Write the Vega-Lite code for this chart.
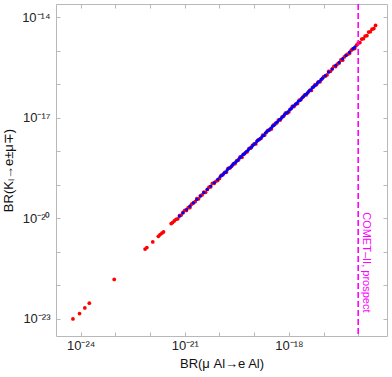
{
  "$schema": "https://vega.github.io/schema/vega-lite/v6.json",
  "width": 331,
  "height": 332,
  "autosize": "none",
  "padding": {"left": 56, "top": 4, "right": 5, "bottom": 41},
  "background": "white",
  "config": {
    "view": {"stroke": "#b8b8b8", "strokeWidth": 1},
    "axis": {
      "domain": false, "grid": false,
      "tickColor": "#b8b8b8", "tickSize": -4, "tickWidth": 1,
      "labelFont": "Liberation Sans", "labelFontSize": 13, "labelColor": "#222",
      "titleFont": "Liberation Sans", "titleFontSize": 13, "titleFontWeight": "normal", "titleColor": "#111"
    }
  },
  "datasets": {
    "pts": [
      {"x": 6.0e-25, "y": 9.8e-24, "s": "r"},
      {"x": 9.3e-25, "y": 1.41e-23, "s": "r"},
      {"x": 1.32e-24, "y": 2.09e-23, "s": "r"},
      {"x": 1.78e-24, "y": 2.88e-23, "s": "r"},
      {"x": 9.3e-24, "y": 1.48e-22, "s": "r"},
      {"x": 7.2e-23, "y": 1.20e-21, "s": "r"},
      {"x": 8.1e-23, "y": 1.32e-21, "s": "r"},
      {"x": 1.20e-22, "y": 1.95e-21, "s": "r"},
      {"x": 1.74e-22, "y": 2.88e-21, "s": "r"},
      {"x": 1.95e-22, "y": 3.24e-21, "s": "r"},
      {"x": 2.19e-22, "y": 3.55e-21, "s": "r"},
      {"x": 2.45e-22, "y": 3.89e-21, "s": "r"},
      {"x": 4.07e-22, "y": 6.9e-21, "s": "r"},
      {"x": 4.47e-22, "y": 7.4e-21, "s": "r"},
      {"x": 5.0e-22, "y": 8.3e-21, "s": "r"},
      {"x": 5.62e-22, "y": 9.26e-21, "s": "r"},
      {"x": 6.31e-22, "y": 9.60e-21, "s": "r"},
      {"x": 7.08e-22, "y": 1.20e-20, "s": "r"},
      {"x": 7.94e-22, "y": 1.24e-20, "s": "r"},
      {"x": 8.91e-22, "y": 1.49e-20, "s": "r"},
      {"x": 1.00e-21, "y": 1.71e-20, "s": "r"},
      {"x": 1.12e-21, "y": 1.70e-20, "s": "r"},
      {"x": 1.26e-21, "y": 2.06e-20, "s": "r"},
      {"x": 1.41e-21, "y": 2.08e-20, "s": "r"},
      {"x": 1.58e-21, "y": 2.63e-20, "s": "r"},
      {"x": 1.78e-21, "y": 2.85e-20, "s": "r"},
      {"x": 2.00e-21, "y": 3.10e-20, "s": "r"},
      {"x": 2.24e-21, "y": 3.87e-20, "s": "r"},
      {"x": 2.51e-21, "y": 3.78e-20, "s": "r"},
      {"x": 2.82e-21, "y": 4.65e-20, "s": "r"},
      {"x": 3.16e-21, "y": 4.96e-20, "s": "r"},
      {"x": 3.55e-21, "y": 6.02e-20, "s": "r"},
      {"x": 3.98e-21, "y": 5.92e-20, "s": "r"},
      {"x": 4.47e-21, "y": 7.22e-20, "s": "r"},
      {"x": 5.01e-21, "y": 8.42e-20, "s": "r"},
      {"x": 5.62e-21, "y": 8.63e-20, "s": "r"},
      {"x": 6.31e-21, "y": 1.10e-19, "s": "r"},
      {"x": 7.08e-21, "y": 1.10e-19, "s": "r"},
      {"x": 7.94e-21, "y": 1.27e-19, "s": "r"},
      {"x": 8.91e-21, "y": 1.34e-19, "s": "r"},
      {"x": 1.00e-20, "y": 1.54e-19, "s": "r"},
      {"x": 1.12e-20, "y": 1.90e-19, "s": "r"},
      {"x": 1.26e-20, "y": 2.00e-19, "s": "r"},
      {"x": 1.41e-20, "y": 2.33e-19, "s": "r"},
      {"x": 1.58e-20, "y": 2.35e-19, "s": "r"},
      {"x": 1.78e-20, "y": 3.08e-19, "s": "r"},
      {"x": 2.00e-20, "y": 3.14e-19, "s": "r"},
      {"x": 2.24e-20, "y": 3.58e-19, "s": "r"},
      {"x": 2.51e-20, "y": 4.22e-19, "s": "r"},
      {"x": 2.82e-20, "y": 4.24e-19, "s": "r"},
      {"x": 3.16e-20, "y": 5.26e-19, "s": "r"},
      {"x": 3.55e-20, "y": 5.51e-19, "s": "r"},
      {"x": 3.98e-20, "y": 6.82e-19, "s": "r"},
      {"x": 4.47e-20, "y": 6.58e-19, "s": "r"},
      {"x": 5.01e-20, "y": 8.18e-19, "s": "r"},
      {"x": 5.62e-20, "y": 9.08e-19, "s": "r"},
      {"x": 6.31e-20, "y": 9.60e-19, "s": "r"},
      {"x": 7.08e-20, "y": 1.20e-18, "s": "r"},
      {"x": 7.94e-20, "y": 1.24e-18, "s": "r"},
      {"x": 8.91e-20, "y": 1.49e-18, "s": "r"},
      {"x": 1.00e-19, "y": 1.65e-18, "s": "r"},
      {"x": 1.12e-19, "y": 1.66e-18, "s": "r"},
      {"x": 1.26e-19, "y": 2.12e-18, "s": "r"},
      {"x": 1.41e-19, "y": 2.26e-18, "s": "r"},
      {"x": 1.58e-19, "y": 2.43e-18, "s": "r"},
      {"x": 1.78e-19, "y": 3.05e-18, "s": "r"},
      {"x": 2.00e-19, "y": 3.01e-18, "s": "r"},
      {"x": 2.24e-19, "y": 3.65e-18, "s": "r"},
      {"x": 2.51e-19, "y": 4.18e-18, "s": "r"},
      {"x": 2.82e-19, "y": 4.37e-18, "s": "r"},
      {"x": 3.16e-19, "y": 4.66e-18, "s": "r"},
      {"x": 3.55e-19, "y": 6.02e-18, "s": "r"},
      {"x": 3.98e-19, "y": 6.43e-18, "s": "r"},
      {"x": 4.47e-19, "y": 7.01e-18, "s": "r"},
      {"x": 5.01e-19, "y": 8.58e-18, "s": "r"},
      {"x": 5.62e-19, "y": 8.54e-18, "s": "r"},
      {"x": 6.31e-19, "y": 1.04e-17, "s": "r"},
      {"x": 7.08e-19, "y": 1.12e-17, "s": "r"},
      {"x": 7.94e-19, "y": 1.37e-17, "s": "r"},
      {"x": 8.91e-19, "y": 1.37e-17, "s": "r"},
      {"x": 1.00e-18, "y": 1.50e-17, "s": "r"},
      {"x": 1.12e-18, "y": 1.83e-17, "s": "r"},
      {"x": 1.26e-18, "y": 2.18e-17, "s": "r"},
      {"x": 1.41e-18, "y": 2.17e-17, "s": "r"},
      {"x": 1.58e-18, "y": 2.56e-17, "s": "r"},
      {"x": 1.78e-18, "y": 2.65e-17, "s": "r"},
      {"x": 2.00e-18, "y": 3.36e-17, "s": "r"},
      {"x": 2.24e-18, "y": 3.51e-17, "s": "r"},
      {"x": 2.51e-18, "y": 4.14e-17, "s": "r"},
      {"x": 2.82e-18, "y": 4.78e-17, "s": "r"},
      {"x": 3.16e-18, "y": 4.81e-17, "s": "r"},
      {"x": 3.55e-18, "y": 5.68e-17, "s": "r"},
      {"x": 3.98e-18, "y": 6.62e-17, "s": "r"},
      {"x": 4.47e-18, "y": 6.58e-17, "s": "r"},
      {"x": 5.01e-18, "y": 8.18e-17, "s": "r"},
      {"x": 5.62e-18, "y": 9.62e-17, "s": "r"},
      {"x": 6.31e-18, "y": 9.80e-17, "s": "r"},
      {"x": 7.08e-18, "y": 1.19e-16, "s": "r"},
      {"x": 7.94e-18, "y": 1.19e-16, "s": "r"},
      {"x": 8.91e-18, "y": 1.44e-16, "s": "r"},
      {"x": 1.00e-17, "y": 1.68e-16, "s": "r"},
      {"x": 1.12e-17, "y": 1.75e-16, "s": "r"},
      {"x": 1.26e-17, "y": 1.90e-16, "s": "r"},
      {"x": 1.41e-17, "y": 2.42e-16, "s": "r"},
      {"x": 1.58e-17, "y": 2.45e-16, "s": "r"},
      {"x": 1.78e-17, "y": 2.91e-16, "s": "r"},
      {"x": 2.00e-17, "y": 3.46e-16, "s": "r"},
      {"x": 2.24e-17, "y": 3.40e-16, "s": "r"},
      {"x": 2.51e-17, "y": 4.02e-16, "s": "r"},
      {"x": 2.82e-17, "y": 4.33e-16, "s": "r"},
      {"x": 3.16e-17, "y": 5.36e-16, "s": "r"},
      {"x": 3.55e-17, "y": 5.28e-16, "s": "r"},
      {"x": 3.98e-17, "y": 6.56e-16, "s": "r"},
      {"x": 4.47e-17, "y": 7.51e-16, "s": "r"},
      {"x": 5.01e-17, "y": 7.94e-16, "s": "r"},
      {"x": 5.62e-17, "y": 8.45e-16, "s": "r"},
      {"x": 6.31e-17, "y": 1.05e-15, "s": "r"},
      {"x": 7.08e-17, "y": 1.15e-15, "s": "r"},
      {"x": 7.94e-17, "y": 1.17e-15, "s": "r"},
      {"x": 8.91e-17, "y": 1.47e-15, "s": "r"},
      {"x": 1.00e-16, "y": 1.70e-15, "s": "r"},
      {"x": 1.12e-16, "y": 1.77e-15, "s": "r"},
      {"x": 1.26e-16, "y": 2.25e-15, "s": "r"},
      {"x": 1.41e-16, "y": 2.30e-15, "s": "r"},
      {"x": 1.58e-16, "y": 2.76e-15, "s": "r"},
      {"x": 1.78e-16, "y": 2.84e-15, "s": "r"},
      {"x": 2.00e-16, "y": 3.63e-15, "s": "r"},
      {"x": 2.24e-16, "y": 3.72e-15, "s": "r"},
      {"x": 2.51e-16, "y": 4.43e-15, "s": "r"},
      {"x": 2.82e-16, "y": 4.63e-15, "s": "r"},
      {"x": 3.16e-16, "y": 5.74e-15, "s": "r"},
      {"x": 7.08e-22, "y": 1.15e-20, "s": "b"},
      {"x": 8.91e-22, "y": 1.44e-20, "s": "b"},
      {"x": 1.12e-21, "y": 1.81e-20, "s": "b"},
      {"x": 1.41e-21, "y": 2.28e-20, "s": "b"},
      {"x": 1.78e-21, "y": 2.88e-20, "s": "b"},
      {"x": 2.24e-21, "y": 3.63e-20, "s": "b"},
      {"x": 2.82e-21, "y": 4.57e-20, "s": "b"},
      {"x": 3.55e-21, "y": 5.75e-20, "s": "b"},
      {"x": 4.47e-21, "y": 7.24e-20, "s": "b"},
      {"x": 5.62e-21, "y": 9.10e-20, "s": "b"},
      {"x": 7.08e-21, "y": 1.15e-19, "s": "b"},
      {"x": 8.91e-21, "y": 1.44e-19, "s": "b"},
      {"x": 1.06e-20, "y": 1.75e-19, "s": "b"},
      {"x": 1.19e-20, "y": 1.91e-19, "s": "b"},
      {"x": 1.33e-20, "y": 2.15e-19, "s": "b"},
      {"x": 1.50e-20, "y": 2.36e-19, "s": "b"},
      {"x": 1.68e-20, "y": 2.75e-19, "s": "b"},
      {"x": 1.88e-20, "y": 3.14e-19, "s": "b"},
      {"x": 2.11e-20, "y": 3.35e-19, "s": "b"},
      {"x": 2.37e-20, "y": 3.84e-19, "s": "b"},
      {"x": 2.66e-20, "y": 4.40e-19, "s": "b"},
      {"x": 2.99e-20, "y": 4.79e-19, "s": "b"},
      {"x": 3.35e-20, "y": 5.27e-19, "s": "b"},
      {"x": 3.76e-20, "y": 6.21e-19, "s": "b"},
      {"x": 4.22e-20, "y": 6.84e-19, "s": "b"},
      {"x": 4.73e-20, "y": 7.89e-19, "s": "b"},
      {"x": 5.31e-20, "y": 8.43e-19, "s": "b"},
      {"x": 5.96e-20, "y": 9.76e-19, "s": "b"},
      {"x": 6.68e-20, "y": 1.07e-18, "s": "b"},
      {"x": 7.50e-20, "y": 1.24e-18, "s": "b"},
      {"x": 8.41e-20, "y": 1.32e-18, "s": "b"},
      {"x": 9.44e-20, "y": 1.53e-18, "s": "b"},
      {"x": 1.06e-19, "y": 1.70e-18, "s": "b"},
      {"x": 1.19e-19, "y": 1.97e-18, "s": "b"},
      {"x": 1.33e-19, "y": 2.17e-18, "s": "b"},
      {"x": 1.50e-19, "y": 2.38e-18, "s": "b"},
      {"x": 1.68e-19, "y": 2.72e-18, "s": "b"},
      {"x": 1.88e-19, "y": 2.96e-18, "s": "b"},
      {"x": 2.11e-19, "y": 3.49e-18, "s": "b"},
      {"x": 2.37e-19, "y": 3.96e-18, "s": "b"},
      {"x": 2.66e-19, "y": 4.27e-18, "s": "b"},
      {"x": 2.99e-19, "y": 4.84e-18, "s": "b"},
      {"x": 3.35e-19, "y": 5.48e-18, "s": "b"},
      {"x": 3.76e-19, "y": 5.97e-18, "s": "b"},
      {"x": 4.22e-19, "y": 7.05e-18, "s": "b"},
      {"x": 4.73e-19, "y": 7.58e-18, "s": "b"},
      {"x": 5.31e-19, "y": 8.77e-18, "s": "b"},
      {"x": 5.96e-19, "y": 9.37e-18, "s": "b"},
      {"x": 6.68e-19, "y": 1.08e-17, "s": "b"},
      {"x": 7.50e-19, "y": 1.23e-17, "s": "b"},
      {"x": 8.41e-19, "y": 1.39e-17, "s": "b"},
      {"x": 9.44e-19, "y": 1.50e-17, "s": "b"},
      {"x": 1.06e-18, "y": 1.74e-17, "s": "b"},
      {"x": 1.19e-18, "y": 1.89e-17, "s": "b"},
      {"x": 1.33e-18, "y": 2.21e-17, "s": "b"},
      {"x": 1.50e-18, "y": 2.43e-17, "s": "b"},
      {"x": 1.68e-18, "y": 2.69e-17, "s": "b"},
      {"x": 1.88e-18, "y": 3.11e-17, "s": "b"},
      {"x": 2.11e-18, "y": 3.32e-17, "s": "b"},
      {"x": 2.37e-18, "y": 3.88e-17, "s": "b"},
      {"x": 2.66e-18, "y": 4.31e-17, "s": "b"},
      {"x": 2.99e-18, "y": 4.94e-17, "s": "b"},
      {"x": 3.35e-18, "y": 5.32e-17, "s": "b"},
      {"x": 3.76e-18, "y": 6.15e-17, "s": "b"},
      {"x": 4.22e-18, "y": 6.77e-17, "s": "b"},
      {"x": 4.73e-18, "y": 7.89e-17, "s": "b"},
      {"x": 5.31e-18, "y": 8.60e-17, "s": "b"},
      {"x": 5.96e-18, "y": 9.47e-17, "s": "b"},
      {"x": 6.68e-18, "y": 1.10e-16, "s": "b"},
      {"x": 7.50e-18, "y": 1.21e-16, "s": "b"},
      {"x": 8.41e-18, "y": 1.37e-16, "s": "b"},
      {"x": 9.44e-18, "y": 1.53e-16, "s": "b"},
      {"x": 1.12e-17, "y": 1.81e-16, "s": "b"},
      {"x": 1.41e-17, "y": 2.30e-16, "s": "b"},
      {"x": 1.78e-17, "y": 2.86e-16, "s": "b"},
      {"x": 2.24e-17, "y": 3.65e-16, "s": "b"},
      {"x": 2.82e-17, "y": 4.53e-16, "s": "b"},
      {"x": 3.55e-17, "y": 5.80e-16, "s": "b"},
      {"x": 4.47e-17, "y": 7.20e-16, "s": "b"},
      {"x": 5.62e-17, "y": 9.15e-16, "s": "b"},
      {"x": 7.08e-17, "y": 1.16e-15, "s": "b"},
      {"x": 7.94e-17, "y": 1.29e-15, "s": "b"}
    ],
    "limit": [{"x": 1e-16, "y": 4.8e-22, "label": "COMET–II, prospect"}]
  },
  "resolve": {"scale": {"x": "shared", "y": "shared"}, "axis": {"x": "independent", "y": "independent"}},
  "layer": [
    {
      "data": {"name": "pts"},
      "transform": [{"filter": "datum.s == 'r'"}],
      "mark": {"type": "circle", "size": 14, "opacity": 1, "color": "#ff0000"},
      "encoding": {
        "x": {
          "field": "x", "type": "quantitative",
          "scale": {"type": "log", "domain": [1.95e-25, 6.76e-16], "nice": false},
          "axis": {
            "orient": "bottom", "title": "BR(μ Al→e Al)", "titlePadding": 5, "labelPadding": 7,
            "values": [1e-24, 1e-23, 1e-22, 1e-21, 1e-20, 1e-19, 1e-18, 1e-17, 1e-16],
            "labelExpr": "round(log(datum.value)/LN10) == -24 ? '10⁻²⁴' : round(log(datum.value)/LN10) == -21 ? '10⁻²¹' : round(log(datum.value)/LN10) == -18 ? '10⁻¹⁸' : ''"
          }
        },
        "y": {
          "field": "y", "type": "quantitative",
          "scale": {"type": "log", "domain": [3.02e-24, 2.51e-14], "nice": false},
          "axis": {
            "orient": "left", "title": "BR(Kₗ→e±μ∓)", "titlePadding": 6, "labelPadding": 10,
            "values": [1e-23, 1e-22, 1e-21, 1e-20, 1e-19, 1e-18, 1e-17, 1e-16, 1e-15, 1e-14],
            "labelExpr": "round(log(datum.value)/LN10) == -23 ? '10⁻²³' : round(log(datum.value)/LN10) == -20 ? '10⁻²⁰' : round(log(datum.value)/LN10) == -17 ? '10⁻¹⁷' : round(log(datum.value)/LN10) == -14 ? '10⁻¹⁴' : ''"
          }
        }
      }
    },
    {
      "data": {"name": "pts"},
      "transform": [{"filter": "datum.s == 'b'"}],
      "mark": {"type": "circle", "size": 11, "opacity": 1, "color": "#0000ff"},
      "encoding": {
        "x": {
          "field": "x", "type": "quantitative",
          "axis": {"orient": "top", "labels": false, "title": null,
            "values": [1e-24, 1e-23, 1e-22, 1e-21, 1e-20, 1e-19, 1e-18, 1e-17, 1e-16]}
        },
        "y": {
          "field": "y", "type": "quantitative",
          "axis": {"orient": "right", "labels": false, "title": null,
            "values": [1e-23, 1e-22, 1e-21, 1e-20, 1e-19, 1e-18, 1e-17, 1e-16, 1e-15, 1e-14]}
        }
      }
    },
    {
      "data": {"name": "limit"},
      "mark": {"type": "rule", "color": "#ff00ff", "strokeWidth": 1.6, "strokeDash": [6, 3]},
      "encoding": {"x": {"field": "x", "type": "quantitative", "axis": null}}
    },
    {
      "data": {"name": "limit"},
      "mark": {"type": "text", "color": "#ff00ff", "angle": 90, "align": "center", "baseline": "alphabetic", "dy": -5, "font": "Liberation Sans", "fontSize": 11},
      "encoding": {
        "x": {"field": "x", "type": "quantitative", "axis": null},
        "y": {"field": "y", "type": "quantitative", "axis": null},
        "text": {"field": "label"}
      }
    }
  ]
}
